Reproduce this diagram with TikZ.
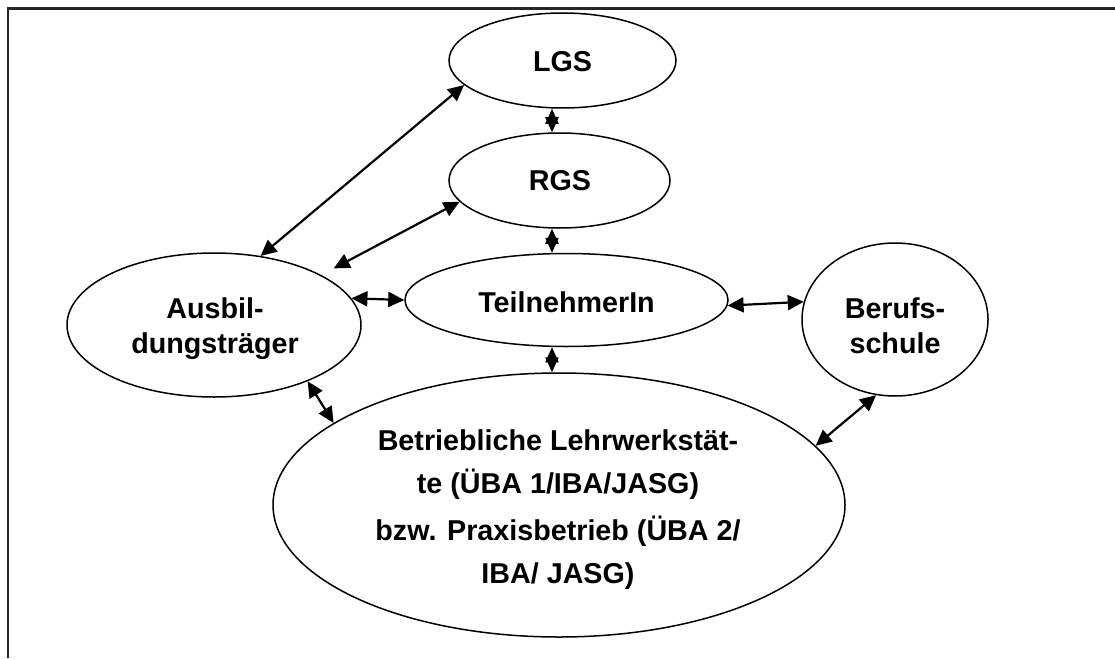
\documentclass[tikz,border=0pt]{standalone}
\usepackage{fontspec}
\setmainfont{Liberation Sans}
\usetikzlibrary{shapes.geometric,arrows.meta}
\tikzset{
  ell/.style={ellipse, draw, line width=1.5pt, inner sep=0pt},
  lbl/.style={font=\bfseries\fontsize{28.7}{35.5}\selectfont, align=center, inner sep=0pt},
  biarrow/.style={line width=2.2pt, {Triangle[length=16pt,width=15pt]}-{Triangle[length=16pt,width=15pt]}},
  smallbiarrow/.style={line width=2.2pt, {Triangle[length=15pt,width=13pt]}-{Triangle[length=15pt,width=13pt]}},
  framebar/.style={line width=2.3pt, black!85},
}
\begin{document}
\begin{tikzpicture}[x=1pt,y=-1pt]
\useasboundingbox (0,0) rectangle (1115,658);
\draw[framebar] (8.3,658) -- (8.3,8.5) -- (1115,8.5);

% ellipses
\node[ell, minimum width=227pt, minimum height=95pt] (lgs) at (562.5,60.5) {};
\node[ell, minimum width=221pt, minimum height=95pt] (rgs) at (559.5,180.5) {};
\node[ell, minimum width=323pt, minimum height=93pt] (teil) at (566.5,300) {};
\node[ell, minimum width=294pt, minimum height=144pt] (ausb) at (214,325) {};
\node[ell, minimum width=186pt, minimum height=153pt] (beruf) at (895,319.5) {};
\node[ell, minimum width=572pt, minimum height=264pt] (betr) at (559,505) {};

% texts
\node[lbl] (lgst) at (562.5,62) {LGS};
\node[lbl] (rgst) at (560,181) {RGS};
\node[lbl] (teilt) at (566.5,302) {TeilnehmerIn};
\node[lbl] (ausbt) at (215,328.5) {Ausbil-\\dungsträger};
\node[lbl] (beruft) at (895,325.5) {Berufs-\\schule};
\node[lbl, font=\bfseries\fontsize{28.7}{43}\selectfont] (betrt) at (558,509.5)
  {Betriebliche Lehrwerkstät-\\te (ÜBA 1/IBA/JASG)\\[4pt]bzw. Praxisbetrieb (ÜBA 2/\\IBA/ JASG)};

% connectors
\draw[biarrow] (ausb.56) -- (lgs.194.4);
\draw[biarrow, shorten <=14pt] (ausb.25.6) -- (rgs.192.6);
\draw[smallbiarrow] ([xshift=-10.5pt]lgs.south) -- ([xshift=-7.5pt]rgs.north);
\draw[smallbiarrow] ([xshift=-7.5pt]rgs.south) -- ([xshift=-14.5pt]teil.north);
\draw[smallbiarrow] ([xshift=-14.5pt]teil.south) -- ([xshift=-7pt]betr.north);
\draw[biarrow] (ausb.11) -- (teil.180);
\draw[biarrow] (teil.358) -- (beruf.169);
\draw[biarrow] (ausb.329) -- (betr.160.6);
\draw[biarrow] (beruf.256) -- (betr.13);
\end{tikzpicture}
\end{document}
